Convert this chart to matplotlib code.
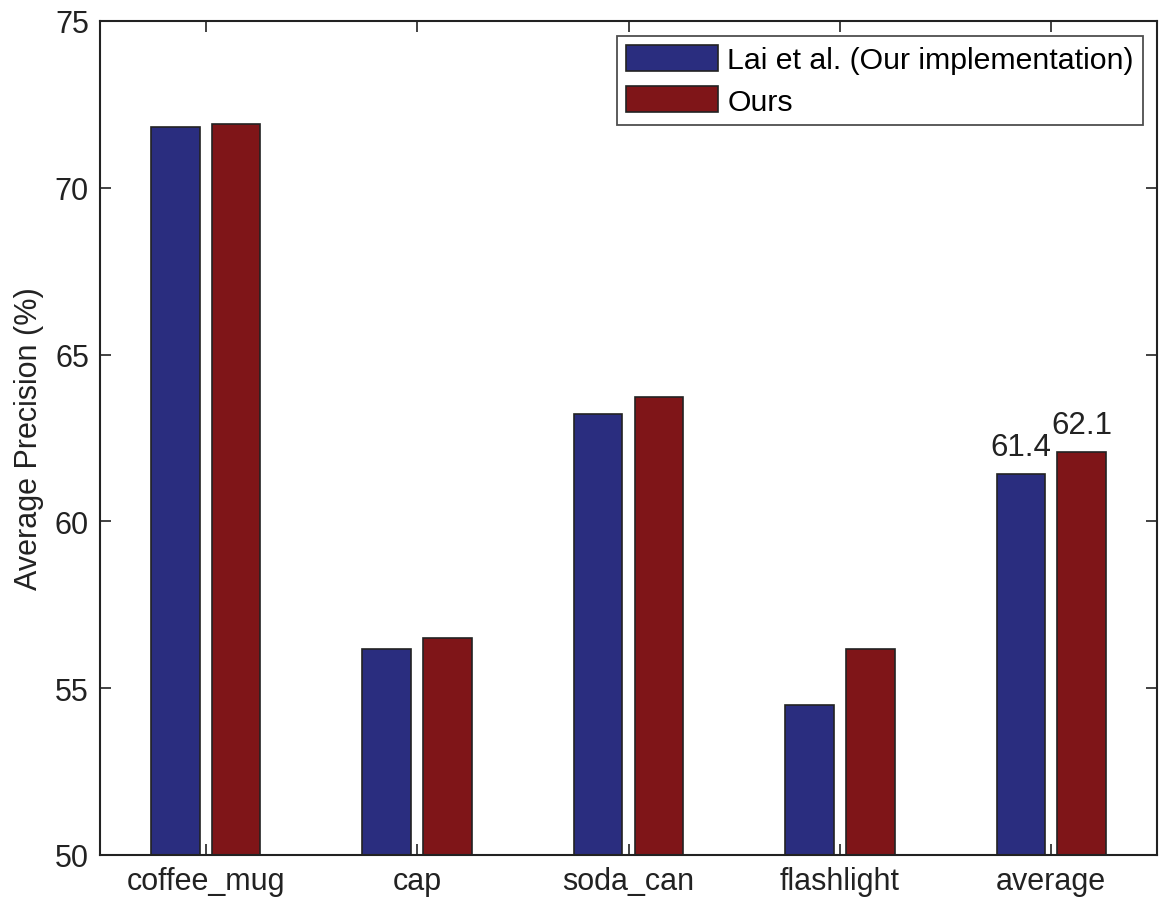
import matplotlib
matplotlib.use("Agg")
import matplotlib.pyplot as plt
import numpy as np

categories = ["coffee_mug", "cap", "soda_can", "flashlight", "average"]
lai = [71.82, 56.17, 63.22, 54.5, 61.42]
ours = [71.92, 56.5, 63.72, 56.17, 62.08]
series_names = ["Lai et al. (Our implementation)", "Ours"]
avg_labels = ["61.4", "62.1"]

plt.rcParams['font.family'] = ['Liberation Sans', 'DejaVu Sans']

fig = plt.figure(figsize=(11.6, 9.04), dpi=100)
ax = fig.add_axes([100 / 1160, 1 - 856 / 904, 1057 / 1160, 834 / 904])

x = np.arange(1, len(categories) + 1)
w = 0.23
off = 0.144
ax.bar(x - off, lai, w, color='#2a2d7f', edgecolor='#222222', linewidth=1.2,
       label=series_names[0])
ax.bar(x + off, ours, w, color='#7f1518', edgecolor='#222222', linewidth=1.2,
       label=series_names[1])

ax.set_ylim(50, 75)
ax.set_xlim(0.5, 5.5)
ax.set_xticks(x)
ax.set_xticklabels(categories)
ax.set_yticks([50, 55, 60, 65, 70, 75])
ax.tick_params(direction='in', length=8, width=1.2, labelsize=22, color='#222222',
               labelcolor='#222222', top=True, right=True, pad=8)
for s in ax.spines.values():
    s.set_linewidth(1.5)
    s.set_color('#222222')
ax.set_ylabel("Average Precision (%)", fontsize=22, color='#222222', labelpad=8)

# labels on the average bars
ax.text(x[-1] - off, lai[-1] + 0.35, avg_labels[0], ha='center', va='bottom', fontsize=22.5,
        color='#222222')
ax.text(x[-1] + off, ours[-1] + 0.35, avg_labels[1], ha='center', va='bottom', fontsize=22.5,
        color='#222222')

leg = ax.legend(loc='upper right', bbox_to_anchor=(1143 / 1160, 1 - 37 / 904),
                bbox_transform=fig.transFigure, fontsize=21.8, frameon=True, fancybox=False,
                edgecolor='#222222', handlelength=3.05, handleheight=0.92,
                borderaxespad=0, handletextpad=0.3, labelspacing=0.4, borderpad=0.3)
leg.get_frame().set_linewidth(1.3)

fig.savefig("out.png", dpi=100)
